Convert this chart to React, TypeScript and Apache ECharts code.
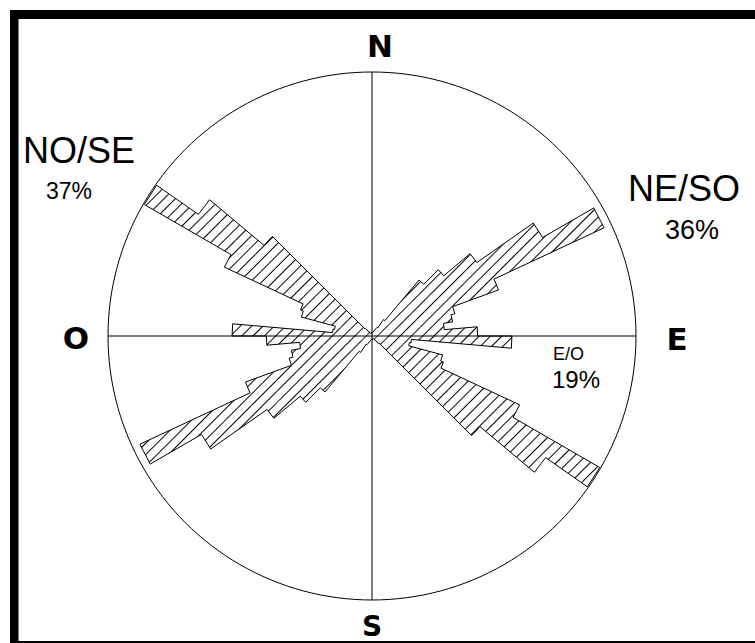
import React, { useEffect, useRef } from "react";
import * as echarts from "echarts";

// 5-degree azimuth classes (bidirectional data: 180-360 mirrors 0-180)
const BIN_WIDTH = 5;
const binStarts = [
  0, 5, 10, 15, 20, 25, 30, 35, 40, 45, 50, 55, 60, 65, 70, 75, 80, 85,
  90, 95, 100, 105, 110, 115, 120, 125, 130, 135, 140, 145, 150, 155, 160, 165, 170, 175,
];
// relative frequency (% of the outer circle)
const binValues = [
  1.5, 1.2, 1.2, 1.5, 2, 2.5, 3.8, 7.6, 27.7, 35.5, 48.5, 74.6, 97, 51, 32.5, 31, 27.5, 40,
  53, 15, 14.4, 27.7, 28.8, 61.7, 99.6, 80.3, 53.4, 3.8, 2.3, 1.9, 1.5, 1.2, 1.2, 0.8, 0.8, 0.8,
];
const cardinalLabels = ["N", "E", "S", "O"];
const familyNames = ["NO/SE", "NE/SO", "E/O"];
const familyPercents = ["37%", "36%", "19%"];

const allStarts = [...binStarts, ...binStarts.map((a) => a + 180)];
const allValues = [...binValues, ...binValues];

export default function App() {
  const ref = useRef<HTMLDivElement>(null);
  useEffect(() => {
    if (!ref.current) return;
    const chart = echarts.init(ref.current, null, { renderer: "svg" });

    const outline: number[][] = [];
    allStarts.forEach((a, i) => {
      outline.push([allValues[i], a]);
      outline.push([allValues[i], a + BIN_WIDTH]);
    });
    outline.push(outline[0]);

    const center = [372, 336];
    const radius = 264;
    const heavy = { fontFamily: "DejaVu Sans", fontWeight: 900, fontSize: 31, fill: "#000" };

    chart.setOption({
      animation: false,
      backgroundColor: "#fff",
      polar: [
        { center, radius },
        { center, radius },
      ],
      angleAxis: [
        {
          polarIndex: 0,
          type: "category",
          data: allStarts.map((a) => `${a}-${a + BIN_WIDTH}`),
          startAngle: 90,
          clockwise: true,
          boundaryGap: true,
          axisLine: { show: false },
          axisTick: { show: false },
          axisLabel: { show: false },
          splitLine: { show: false },
        },
        {
          polarIndex: 1,
          type: "value",
          min: 0,
          max: 360,
          interval: 90,
          startAngle: 90,
          clockwise: true,
          axisLine: { show: true, lineStyle: { color: "#000", width: 1 } },
          axisTick: { show: false },
          axisLabel: { show: false },
          splitLine: { show: true, lineStyle: { color: "#000", width: 1 } },
        },
      ],
      radiusAxis: [
        {
          polarIndex: 0,
          type: "value",
          min: 0,
          max: 100,
          axisLine: { show: false },
          axisTick: { show: false },
          axisLabel: { show: false },
          splitLine: { show: false },
        },
        {
          polarIndex: 1,
          type: "value",
          min: 0,
          max: 100,
          axisLine: { show: false },
          axisTick: { show: false },
          axisLabel: { show: false },
          splitLine: { show: false },
        },
      ],
      series: [
        {
          type: "bar",
          coordinateSystem: "polar",
          polarIndex: 0,
          data: allValues,
          barCategoryGap: "0%",
          barGap: "0%",
          itemStyle: {
            color: "rgba(255,255,255,0)",
            borderWidth: 0,
            decal: {
              symbol: "rect",
              symbolSize: 1,
              dashArrayX: [1, 0],
              dashArrayY: [1, 7],
              rotation: -Math.PI / 4,
              color: "#000",
              backgroundColor: "rgba(255,255,255,0)",
            },
          },
          silent: true,
        },
        {
          type: "line",
          coordinateSystem: "polar",
          polarIndex: 1,
          data: outline,
          symbol: "none",
          lineStyle: { color: "#000", width: 1 },
          silent: true,
        },
      ],
      graphic: [
        { type: "rect", shape: { x: 10, y: 10, width: 745, height: 9 }, style: { fill: "#000" } },
        { type: "rect", shape: { x: 10, y: 10, width: 8.5, height: 633 }, style: { fill: "#000" } },
        { type: "rect", shape: { x: 10, y: 641, width: 745, height: 2 }, style: { fill: "#000" } },
        { type: "text", x: 380, y: 46, style: { ...heavy, text: cardinalLabels[0], align: "center", verticalAlign: "middle" } },
        { type: "text", x: 677, y: 339, style: { ...heavy, text: cardinalLabels[1], align: "center", verticalAlign: "middle" } },
        { type: "text", x: 372, y: 626, style: { ...heavy, fontSize: 28, text: cardinalLabels[2], align: "center", verticalAlign: "middle" } },
        { type: "text", x: 76, y: 338, style: { ...heavy, text: cardinalLabels[3], align: "center", verticalAlign: "middle" } },
        { type: "text", x: 23, y: 150, style: { text: familyNames[0], fontFamily: "Liberation Sans", fontSize: 36, fill: "#000", align: "left", verticalAlign: "middle" } },
        { type: "text", x: 46, y: 191, style: { text: familyPercents[0], fontFamily: "Liberation Sans", fontSize: 23, fill: "#000", align: "left", verticalAlign: "middle" } },
        { type: "text", x: 628, y: 188, style: { text: familyNames[1], fontFamily: "Liberation Sans", fontSize: 36, fill: "#000", align: "left", verticalAlign: "middle" } },
        { type: "text", x: 665, y: 230, style: { text: familyPercents[1], fontFamily: "Liberation Sans", fontSize: 27, fill: "#000", align: "left", verticalAlign: "middle" } },
        { type: "text", x: 553, y: 354, style: { text: familyNames[2], fontFamily: "Liberation Sans", fontSize: 18, fill: "#000", align: "left", verticalAlign: "middle" } },
        { type: "text", x: 552, y: 379, style: { text: familyPercents[2], fontFamily: "Liberation Sans", fontSize: 24, fill: "#000", align: "left", verticalAlign: "middle" } },
      ],
    });
    return () => chart.dispose();
  }, []);
  return (
    <div
      ref={ref}
      style={{ position: "fixed", left: 0, top: 0, width: 755, height: 643, background: "#fff" }}
    />
  );
}
